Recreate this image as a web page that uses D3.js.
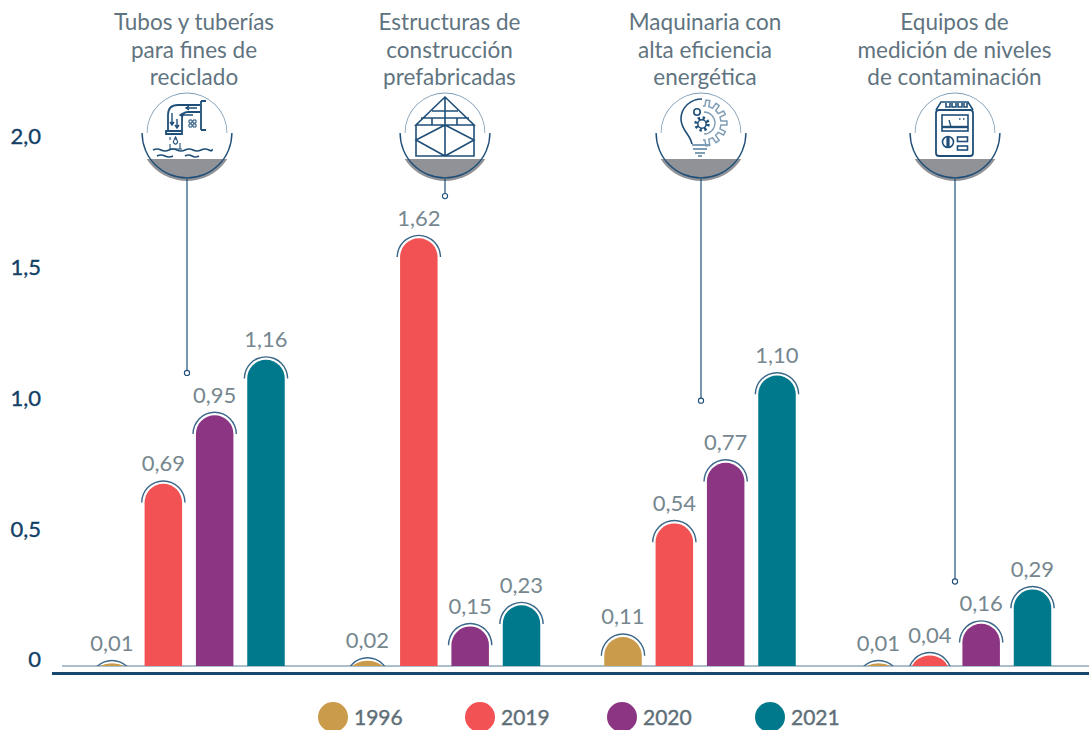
<!DOCTYPE html>
<html><head><meta charset="utf-8">
<script src="https://cdn.jsdelivr.net/npm/d3@7"></script>
<style>html,body{margin:0;padding:0;background:#fff}svg{display:block}text{font-family:Lato,"Noto Sans",sans-serif}</style>
</head><body><svg id="c" width="1089" height="730"></svg>
<script>
const categories = ["tubos","estructuras","maquinaria","equipos"];
const titles = [
 ["Tubos y tuberías","para fines de","reciclado"],
 ["Estructuras de","construcción","prefabricadas"],
 ["Maquinaria con","alta eficiencia","energética"],
 ["Equipos de","medición de niveles","de contaminación"]];
const years = ["1996","2019","2020","2021"];
const values1996 = [0.01,0.02,0.11,0.01];
const values2019 = [0.69,1.62,0.54,0.04];
const values2020 = [0.95,0.15,0.77,0.16];
const values2021 = [1.16,0.23,1.10,0.29];
const labels1996 = ["0,01","0,02","0,11","0,01"];
const labels2019 = ["0,69","1,62","0,54","0,04"];
const labels2020 = ["0,95","0,15","0,77","0,16"];
const labels2021 = ["1,16","0,23","1,10","0,29"];
const leaderEnds = [1.11,1.78,1.005,0.32];
const tickValues = [0,0.5,1,1.5,2];
const tickLabels = ["0","0,5","1,0","1,5","2,0"];
const colors = ["#c99b4a","#f25254","#8c3583","#00798c"];

const svg = d3.select("#c");
const y = d3.scaleLinear().domain([0,2]).range([666,138]);
const yTick = d3.scaleLinear().domain([0,2]).range([659,136]);
const gx = d3.scalePoint().domain(categories).range([189,955.5]);
const bx = d3.scalePoint().domain(years).range([-77,77]);
const series = [values1996,values2019,values2020,values2021];
const labels = [labels1996,labels2019,labels2020,labels2021];
const NAVY="#1f4f78", CAP="#3a6688", STEEL="#7f9db5", GREY="#76878f";
const barW=37.5, r=barW/2;

svg.append("clipPath").attr("id","base").append("rect").attr("x",0).attr("y",0).attr("width",1089).attr("height",y(0));

// y axis labels
const ax = d3.axisLeft(yTick).tickValues(tickValues).tickFormat((d,i)=>tickLabels[i]).tickSize(0).tickPadding(0);
const axG = svg.append("g").attr("transform","translate(41,0)").call(ax);
axG.select(".domain").remove();
axG.selectAll("text").attr("font-size",22).attr("font-weight",400).attr("fill","#123f66").attr("stroke","#123f66").attr("stroke-width",0.35).attr("dy","0.36em").attr("style","font-family:Lato,sans-serif");

// baselines
svg.append("line").attr("x1",62).attr("x2",1089).attr("y1",y(0)).attr("y2",y(0)).attr("stroke","#8fa9ba").attr("stroke-width",1.5);
svg.append("line").attr("x1",52).attr("x2",1089).attr("y1",y(0)+7.5).attr("y2",y(0)+7.5).attr("stroke","#17466e").attr("stroke-width",3);

// bars
const pts=[];
categories.forEach((c,ci)=>years.forEach((yr,si)=>pts.push({c,ci,yr,si,v:series[si][ci],l:labels[si][ci]})));
const g = svg.append("g").attr("clip-path","url(#base)");
g.selectAll("rect.bar").data(pts).join("rect").attr("class","bar")
 .attr("x",d=>gx(d.c)+bx(d.yr)-barW/2).attr("y",d=>y(d.v))
 .attr("width",barW).attr("height",d=>y(0)-y(d.v)+r+2).attr("rx",r).attr("ry",r)
 .attr("fill",d=>colors[d.si]);
// arcs above bar tops
const arc = d3.arc().innerRadius(r+2.2).outerRadius(r+3.6).startAngle(-Math.PI/2).endAngle(Math.PI/2);
g.selectAll("path.cap").data(pts).join("path").attr("class","cap")
 .attr("d",arc).attr("fill",CAP)
 .attr("transform",d=>`translate(${gx(d.c)+bx(d.yr)},${y(d.v)+r})`);
// value labels
svg.selectAll("text.val").data(pts).join("text").attr("class","val")
 .attr("x",d=>gx(d.c)+bx(d.yr)).attr("y",d=>y(d.v)-12.5)
 .attr("text-anchor","middle").attr("font-size",22).attr("fill",GREY).text(d=>d.l);

// titles
const titleShift=[5,5,5,-1];
categories.forEach((c,i)=>{
 const t=svg.append("text").attr("text-anchor","middle").attr("font-size",22.5).attr("fill","#5f7480");
 titles[i].forEach((s,j)=>t.append("tspan").attr("x",gx(c)+titleShift[i]).attr("y",30+j*27.5).text(s));
});

// gear outline built from tooth angles
function gearPath(cx,cy,rIn,rOut,teeth,a0,a1){
 const pt=(a,R)=>[cx+R*Math.cos(a),cy+R*Math.sin(a)];
 const st=(a1-a0)/teeth; const p=[];
 for(let k=0;k<teeth;k++){
  const a=a0+k*st;
  p.push(pt(a,rIn),pt(a+st*.25,rIn),pt(a+st*.32,rOut),pt(a+st*.68,rOut),pt(a+st*.75,rIn));
 }
 p.push(pt(a1,rIn));
 return "M"+p.map(q=>q.map(v=>v.toFixed(1)).join(",")).join("L");
}

// icons
const CY=133;
const icons=[
 s=>{ // pipe
  s.append("path").attr("d","M-19,-2V-18Q-19,-28 -9,-28H13M-5,-2V-15Q-5,-21 1,-21H13M14,-32V-3M14,-32H19M14,-3H19M-21,-2H-5V1H-21Z").attr("stroke-width",1.8);
  s.append("path").attr("d","M-15,-20V-8M-17,-11L-15,-8L-13,-11M-10,-14V-5M-12,-8L-10,-5L-8,-8M10,-25H-1M2,-27L-1,-25L2,-23M6,-18H-7M-4,-20L-7,-18L-4,-16");
  s.append("path").attr("d","M2,-13h3v3h-3zM6,-13h3v3h-3zM2,-9h3v3h-3zM6,-9h3v3h-3z").attr("stroke-width",1);
  s.append("path").attr("d","M-17,4V7M-11,4V7M-17,11V16M-7,10V16M-13,7a2,2.5 0 1,0 3,0l-1.5,-3zM-17,16H-5").attr("stroke-width",1.1);
  s.append("path").attr("d","M-34,17q4,-2 8,0t8,0t8,0t8,0t8,0t8,0t8,0t3,-1M-30,23q4,-2 8,0t8,0M-2,23q4,-2 7,0t7,0").attr("stroke-width",1.6);
 },
 s=>{ // prefabricated
  s.append("path").attr("d","M0,-36L-29,-8H29ZM-29,-8V23H29V-8M0,-36V23M0,-8L29,7L0,23L-29,7ZM-13,-22H13M-24,-15H24M-13,-15V-8M12,-15V-8").attr("stroke-width",1.6);
 },
 s=>{ // bulb
  s.append("path").attr("d","M-9,11C-11,1 -20,-3 -20,-14C-20,-26 -10,-34 1,-34").attr("stroke-width",1.6);
  s.append("path").attr("d",gearPath(3,-10,17,23,7,-Math.PI*0.52,Math.PI*0.52)).attr("stroke",STEEL).attr("stroke-width",1.5);
  s.append("path").attr("d",d3.arc().innerRadius(11).outerRadius(11).startAngle(0).endAngle(Math.PI)()).attr("transform","translate(3,-10)").attr("stroke",STEEL).attr("stroke-width",1.3);
  s.append("path").attr("d","M-9,12H8M-8,16H6M-6,20H4M-3,23H1").attr("stroke",STEEL).attr("stroke-width",2.2);
  s.append("circle").attr("cx",1).attr("cy",-9).attr("r",6).attr("stroke-width",3.4).attr("stroke-dasharray","2.2 2.5");
  s.append("circle").attr("cx",1).attr("cy",-9).attr("r",4.2).attr("stroke-width",1.5);
  s.append("circle").attr("cx",-4).attr("cy",-21).attr("r",3.2).attr("stroke-width",1.6);
 },
 s=>{ // meter
  s.append("rect").attr("x",-19).attr("y",-23).attr("width",37).attr("height",46).attr("rx",3).attr("stroke-width",1.8);
  s.append("path").attr("d","M-19,-23L-14,-31H13L18,-23M-9,-30v4h4v-4M-3,-30v4h4v-4M3,-30v4h4v-4M9,-30v4h3v-4").attr("stroke-width",1.6);
  s.append("rect").attr("x",-13).attr("y",-18).attr("width",26).attr("height",16).attr("stroke-width",1.6);
  s.append("path").attr("d","M-13,-6H13").attr("stroke-width",2.4);
  s.append("path").attr("d","M-6,-13L-4,-6M4,-14h1.5M8,-14h1.5").attr("stroke-width",1.3);
  s.append("circle").attr("cx",-7).attr("cy",9).attr("r",5.5).attr("stroke-width",1.6);
  s.append("path").attr("d","M-7,3.5V14.5").attr("stroke-width",3.2);
  s.append("rect").attr("x",2.5).attr("y",4).attr("width",10).attr("height",4.5).attr("stroke-width",1.6);
  s.append("rect").attr("x",2.5).attr("y",13).attr("width",10).attr("height",4).attr("stroke-width",1.6);
 }
];
const iconX=[187,445,701,955];
categories.forEach((c,i)=>{
 const cx=iconX[i];
 const ic=svg.append("g").attr("transform",`translate(${cx},${CY})`);
 ic.append("clipPath").attr("id","seg"+i).append("rect").attr("x",-50).attr("y",26).attr("width",100).attr("height",30);
 ic.append("circle").attr("r",48).attr("fill","#909297").attr("clip-path",`url(#seg${i})`);
 ic.append("path").attr("d",d3.arc().innerRadius(44.2).outerRadius(45.6).startAngle(Math.PI/2).endAngle(Math.PI*1.5)()).attr("fill",NAVY);
 ic.append("path").attr("d",d3.arc().innerRadius(39.6).outerRadius(40.4).startAngle(-Math.PI/2).endAngle(Math.PI/2)()).attr("fill",STEEL);
 const s=ic.append("g").attr("fill","none").attr("stroke",NAVY).attr("stroke-width",1.4);
 icons[i](s);
 const ly=y(leaderEnds[i]);
 svg.append("line").attr("x1",cx).attr("x2",cx).attr("y1",CY+45).attr("y2",ly-2.5).attr("stroke",NAVY).attr("stroke-width",1.2);
 svg.append("circle").attr("cx",cx).attr("cy",ly).attr("r",2.6).attr("fill","#fff").attr("stroke",NAVY).attr("stroke-width",1.1);
});

// legend
const legX = d3.scaleOrdinal().domain(years).range([333,480,622,770]);
const lg = svg.selectAll("g.leg").data(years).join("g").attr("class","leg").attr("transform",d=>`translate(${legX(d)},717)`);
lg.append("circle").attr("r",15).attr("fill",(d,i)=>colors[i]);
lg.append("text").attr("x",21).attr("y",7.5).attr("font-size",21).attr("fill","#5f6f78").attr("stroke","#5f6f78").attr("stroke-width",0.4).text(d=>d);
</script></body></html>
